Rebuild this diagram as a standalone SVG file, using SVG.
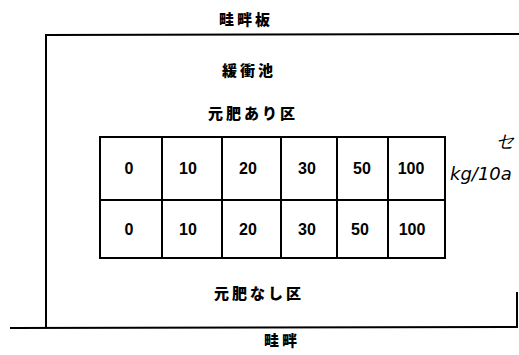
<svg xmlns="http://www.w3.org/2000/svg" width="519" height="355" viewBox="0 0 519 355">
<style>
.ln{stroke:#000;stroke-width:2;fill:none}
.cell{stroke:#000;stroke-width:2;fill:#fff}
.jp{font-family:"Noto Sans CJK JP","Noto Sans",sans-serif;font-weight:900;font-size:15px;letter-spacing:3px;fill:#000;text-anchor:middle}
.num{font-family:"Liberation Sans",Arial,sans-serif;font-weight:bold;font-size:16px;fill:#000;text-anchor:middle}
.hw{font-family:"DejaVu Sans",sans-serif;font-style:italic;font-size:18px;fill:#000}
</style>
<rect width="519" height="355" fill="#fff"/>
<g id="field-boundary">
<path class="ln" d="M46,328 L46,35 L519,34"/>
<path class="ln" d="M10,328 L517,327 L517,292"/>
</g>
<g id="labels">
<text class="jp" x="246" y="25">畦畔板</text>
<text class="jp" x="249" y="76">緩衝池</text>
<text class="jp" x="253" y="119">元肥あり区</text>
<text class="jp" x="259" y="299">元肥なし区</text>
<text class="jp" x="282" y="346">畦畔</text>
</g>
<g id="row-with">
<g id="a0"><rect class="cell" x="100" y="137" width="62" height="63"/><text class="num" x="129" y="174">0</text></g>
<g id="a10"><rect class="cell" x="162" y="137" width="60" height="63"/><text class="num" x="188" y="174">10</text></g>
<g id="a20"><rect class="cell" x="222" y="137" width="59" height="63"/><text class="num" x="248" y="174">20</text></g>
<g id="a30"><rect class="cell" x="281" y="137" width="56" height="63"/><text class="num" x="307" y="174">30</text></g>
<g id="a50"><rect class="cell" x="337" y="137" width="51" height="63"/><text class="num" x="362" y="174">50</text></g>
<g id="a100"><rect class="cell" x="388" y="137" width="57" height="63"/><text class="num" x="411" y="174">100</text></g>
</g>
<g id="row-without">
<g id="b0"><rect class="cell" x="100" y="200" width="62" height="58"/><text class="num" x="129" y="235">0</text></g>
<g id="b10"><rect class="cell" x="162" y="200" width="60" height="58"/><text class="num" x="188" y="235">10</text></g>
<g id="b20"><rect class="cell" x="222" y="200" width="59" height="58"/><text class="num" x="248" y="235">20</text></g>
<g id="b30"><rect class="cell" x="281" y="200" width="56" height="58"/><text class="num" x="307" y="235">30</text></g>
<g id="b50"><rect class="cell" x="337" y="200" width="51" height="58"/><text class="num" x="360" y="235">50</text></g>
<g id="b100"><rect class="cell" x="388" y="200" width="57" height="58"/><text class="num" x="412" y="235">100</text></g>
</g>
<g id="annotation">
<text class="hw" x="450" y="180">kg/10a</text>
<text class="hw" x="496" y="147" font-size="20" font-style="normal">セ</text>
</g>
</svg>
